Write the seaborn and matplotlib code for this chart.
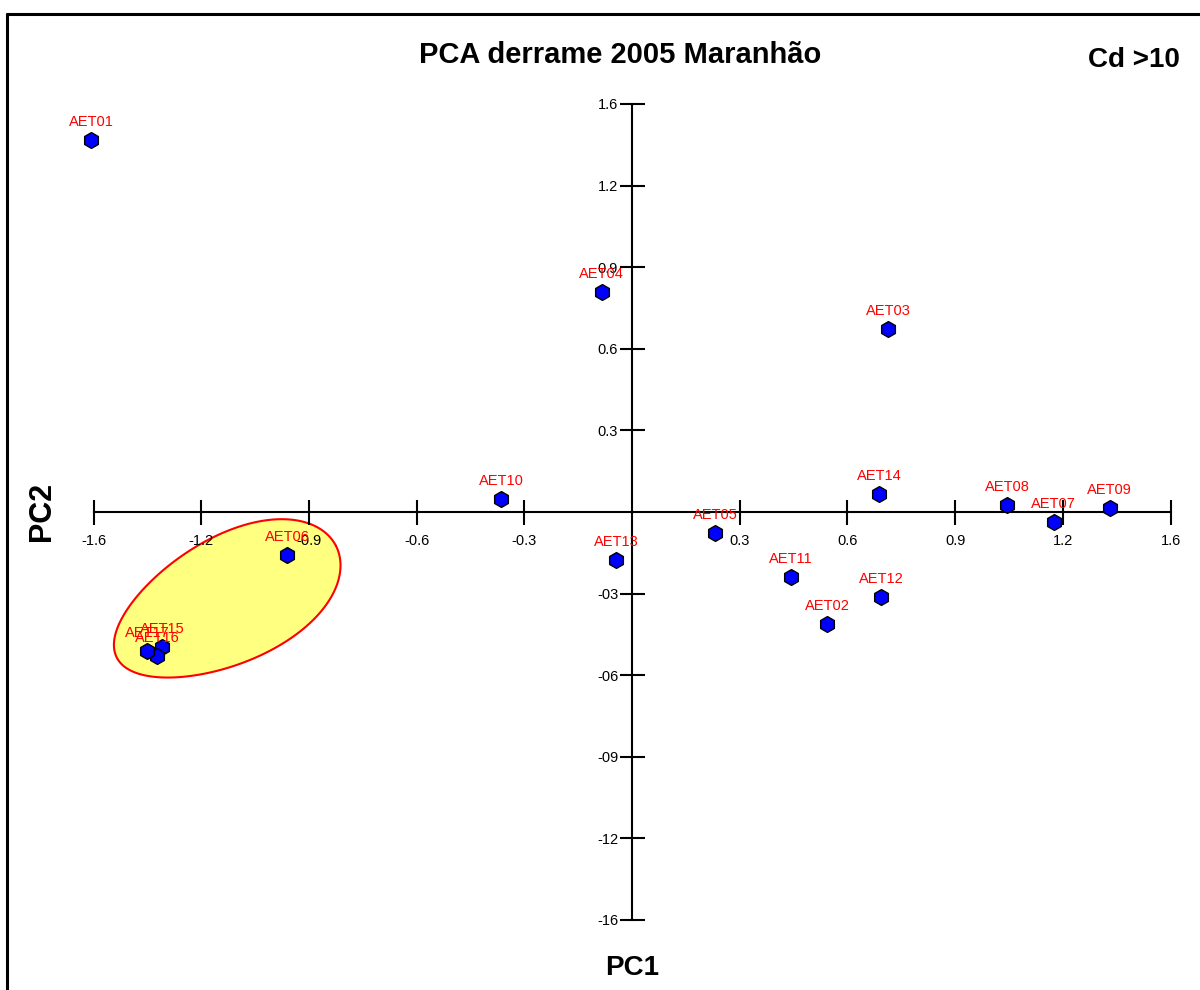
import numpy as np
import pandas as pd
import matplotlib
matplotlib.use("Agg")
import matplotlib.pyplot as plt
from matplotlib.lines import Line2D
from matplotlib.patches import Polygon
import seaborn as sns

# ---- data ----
samples = ["AET01", "AET02", "AET03", "AET04", "AET05", "AET06", "AET07", "AET08", "AET09",
           "AET10", "AET11", "AET12", "AET13", "AET14", "AET15", "AET16", "AET17"]
pc1 = [-1.507, 0.543, 0.713, -0.084, 0.231, -0.961, 1.175, 1.045, 1.331,
       -0.365, 0.443, 0.694, -0.045, 0.688, -1.309, -1.323, -1.351]
pc2 = [1.368, -0.412, 0.673, 0.809, -0.077, -0.158, -0.037, 0.026, 0.015,
       0.048, -0.239, -0.313, -0.176, 0.066, -0.496, -0.529, -0.511]

tick_pos = [-1.5, -1.2, -0.9, -0.6, -0.3, 0.3, 0.6, 0.9, 1.2, 1.5]
x_tick_labels = ["-1.6", "-1.2", "-0.9", "-0.6", "-0.3", "0.3", "0.6", "0.9", "1.2", "1.6"]
y_tick_labels = ["-16", "-12", "-09", "-06", "-03", "0.3", "0.6", "0.9", "1.2", "1.6"]

title = "PCA derrame 2005 Maranhão"
subtitle = "Cd >10"

df = pd.DataFrame({"sample": samples, "PC1": pc1, "PC2": pc2})

sns.set_style("white")
plt.rcParams["font.family"] = ["Liberation Sans", "DejaVu Sans"]
plt.rcParams["text.color"] = "black"

fig = plt.figure(figsize=(12, 9.9), dpi=100)
ax = fig.add_axes([0.063, 0.057, 0.9274, 0.8517])
ax.set_xlim(-1.55, 1.55)
ax.set_ylim(-1.55, 1.55)
ax.set_axisbelow(False)

# highlighted group (yellow egg shape)
fig.canvas.draw()
o = ax.transData.transform([0, 0])
sx = ax.transData.transform([1, 0])[0] - o[0]
sy = ax.transData.transform([0, 1])[1] - o[1]
hl_cx, hl_cy = -1.13, -0.33
a_px, b_px, k, th = 123, 63, 0.12, np.deg2rad(27)
t = np.linspace(0, 2 * np.pi, 240)
u = a_px * np.cos(t)
v = b_px * np.sin(t) * (1 + k * np.cos(t))
dx = u * np.cos(th) - v * np.sin(th)
dy = u * np.sin(th) + v * np.cos(th)
poly = np.column_stack([hl_cx + dx / sx, hl_cy + dy / sy])
ax.add_patch(Polygon(poly, closed=True, facecolor="#FFFF80", edgecolor="#FF0000",
                     linewidth=1.5, zorder=1))

sns.scatterplot(data=df, x="PC1", y="PC2", ax=ax, marker="h", s=130,
                color="#0000FF", edgecolor="black", linewidth=1.0, zorder=5, legend=False)

for name, x, y in zip(samples, pc1, pc2):
    ax.annotate(name, (x, y), xytext=(0, 13), textcoords="offset points",
                ha="center", va="center", color="#FF0000", fontsize=10.5, zorder=6)

# axes crossing at the origin
for side in ["top", "right"]:
    ax.spines[side].set_visible(False)
ax.spines["left"].set_position("zero")
ax.spines["bottom"].set_position("zero")
ax.spines["left"].set_bounds(-1.5, 1.5)
ax.spines["bottom"].set_bounds(-1.5, 1.5)
for side in ["left", "bottom"]:
    ax.spines[side].set_color("black")
    ax.spines[side].set_linewidth(1.5)
    ax.spines[side].set_zorder(2)

ax.set_xticks(tick_pos)
ax.set_xticklabels(x_tick_labels)
ax.set_yticks(tick_pos)
ax.set_yticklabels(y_tick_labels)
ax.tick_params(axis="x", bottom=True, direction="inout", length=18, width=1.5, pad=7,
               labelsize=10.5, colors="black")
ax.tick_params(axis="y", left=True, direction="inout", length=18, width=1.5, pad=1,
               labelsize=10.5, colors="black")
ax.set_xlabel("")
ax.set_ylabel("")

# texts
fig.text(0.517, 0.944, title, ha="center", va="center", fontsize=21, fontweight="bold",
         color="black")
fig.text(0.983, 0.939, subtitle, ha="right", va="center", fontsize=20, fontweight="bold",
         color="black")
fig.text(0.527, 0.022, "PC1", ha="center", va="center", fontsize=20, fontweight="bold",
         color="black")
fig.text(0.035, 0.483, "PC2", ha="center", va="center", fontsize=22, fontweight="bold",
         rotation=90, color="black")

# frame (top and left edges visible)
fig.add_artist(Line2D([0.0058, 1.0], [0.9859, 0.9859], transform=fig.transFigure, color="black", linewidth=2.2))
fig.add_artist(Line2D([0.0058, 0.0058], [0.0, 0.9859], transform=fig.transFigure, color="black", linewidth=2.2))

fig.savefig("out.png", dpi=100)
